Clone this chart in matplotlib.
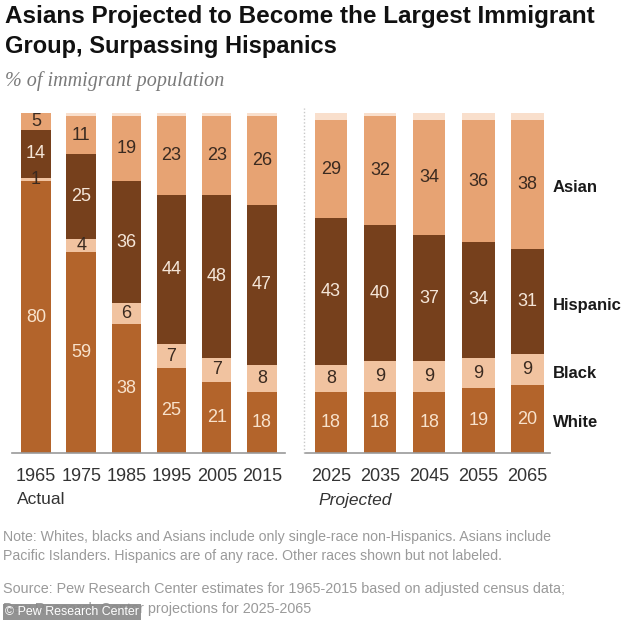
import numpy as np
import matplotlib.pyplot as plt

years_actual = ["1965", "1975", "1985", "1995", "2005", "2015"]
years_proj = ["2025", "2035", "2045", "2055", "2065"]

white = [80, 59, 38, 25, 21, 18, 18, 18, 18, 19, 20]
black = [1, 4, 6, 7, 7, 8, 8, 9, 9, 9, 9]
hispanic = [14, 25, 36, 44, 48, 47, 43, 40, 37, 34, 31]
asian = [5, 11, 19, 23, 23, 26, 29, 32, 34, 36, 38]

groups = ["White", "Black", "Hispanic", "Asian"]
colors = {"White": "#b3642b", "Black": "#f1c3a0", "Hispanic": "#76401c",
          "Asian": "#e7a373", "Other": "#f9dfcc"}
txt_colors = {"White": "#f8e2cc", "Black": "#3a2a20", "Hispanic": "#f5e6d8",
              "Asian": "#3a2a20"}

W, H = 634, 620
fig = plt.figure(figsize=(W / 100, H / 100), dpi=100)
fig.patch.set_facecolor("white")
plt.rcParams["font.family"] = ["Liberation Sans", "DejaVu Sans"]

renderer = fig.canvas.get_renderer()


def px_axes(x0, y0, x1, y1):
    return fig.add_axes([x0 / W, 1 - y1 / H, (x1 - x0) / W, (y1 - y0) / H])


def fit_text(x, y, s, width_px, **kw):
    # place text, then scale the font so its widest line spans width_px
    t = fig.text(x / W, 1 - y / H, s, va="center", **kw)
    w = t.get_window_extent(renderer).width
    t.set_fontsize(t.get_fontsize() * width_px / w)
    return t


ax_l = px_axes(12, 113, 285, 453)
ax_r = px_axes(305, 113, 550, 453)

series = {"White": white, "Black": black, "Hispanic": hispanic, "Asian": asian}


def draw(ax, idx, labels, width):
    x = np.arange(len(idx))
    bottom = np.zeros(len(idx))
    for g in groups:
        vals = np.array([series[g][i] for i in idx], dtype=float)
        ax.bar(x, vals, width, bottom=bottom, color=colors[g], linewidth=0)
        for xi, v, b in zip(x, vals, bottom):
            ax.text(xi, b + v / 2, f"{int(v)}", ha="center", va="center",
                    fontsize=13, color=txt_colors[g])
        bottom += vals
    other = 100 - bottom
    ax.bar(x, other, width, bottom=bottom, color=colors["Other"], linewidth=0)
    ax.set_ylim(0, 100)
    for s in ["top", "right", "left"]:
        ax.spines[s].set_visible(False)
    ax.spines["bottom"].set_color("#9a9a9a")
    ax.spines["bottom"].set_linewidth(1.2)
    ax.set_yticks([])
    ax.set_xticks(x)
    ax.set_xticklabels(labels, fontsize=13, color="#333333")
    ax.tick_params(axis="x", length=0, pad=10.5)
    return bottom


draw(ax_l, range(0, 6), years_actual, 0.65)
ax_l.set_xlim(-0.53, 5.51)
draw(ax_r, range(6, 11), years_proj, 0.66)
ax_r.set_xlim(-0.53, 4.46)

# series labels at the right of the last projected bar
last = [white[-1], black[-1], hispanic[-1], asian[-1]]
cum = np.cumsum([0] + last)
for g, c0, v in zip(groups, cum[:-1], last):
    ax_r.text(4.52, c0 + v / 2 - 1, g, ha="left", va="center", fontsize=12,
              fontweight="bold", color="#1a1a1a", clip_on=False)

# dotted divider between actual and projected
fig.add_artist(plt.Line2D([304 / W, 304 / W], [1 - 453 / H, 1 - 108 / H],
                          color="#c8c8c8", lw=1, ls=(0, (1, 1.5))))

fit_text(5, 17, "Asians Projected to Become the Largest Immigrant", 587,
         fontsize=16, fontweight="bold", color="#111111")
fit_text(5, 46, "Group, Surpassing Hispanics", 330,
         fontsize=16, fontweight="bold", color="#111111")
fit_text(5, 81, "% of immigrant population", 220, fontsize=12.5,
         style="italic", family=["Liberation Serif", "DejaVu Serif"],
         color="#7a7a7a")

fig.text(17 / W, 1 - 500 / H, "Actual", fontsize=12.5, va="center", color="#333333")
fig.text(318 / W, 1 - 500 / H, "Projected", fontsize=12.5, style="italic",
         va="center", color="#333333")

note = ("Note: Whites, blacks and Asians include only single-race non-Hispanics. Asians include\n"
        "Pacific Islanders. Hispanics are of any race. Other races shown but not labeled.")
fit_text(3, 546.5, note, 545, fontsize=10, color="#9a9a9a", linespacing=1.4)
source = ("Source: Pew Research Center estimates for 1965-2015 based on adjusted census data;\n"
          "Pew Research Center projections for 2025-2065")
fit_text(3, 599, source, 562, fontsize=10, color="#9a9a9a", linespacing=1.5)

fit_text(5, 612, "\u00a9 Pew Research Center", 134, fontsize=9, color="white",
         bbox=dict(boxstyle="square,pad=0.2", fc="#8a8a8a", ec="none", alpha=0.92))

fig.savefig("out.png", dpi=100)
